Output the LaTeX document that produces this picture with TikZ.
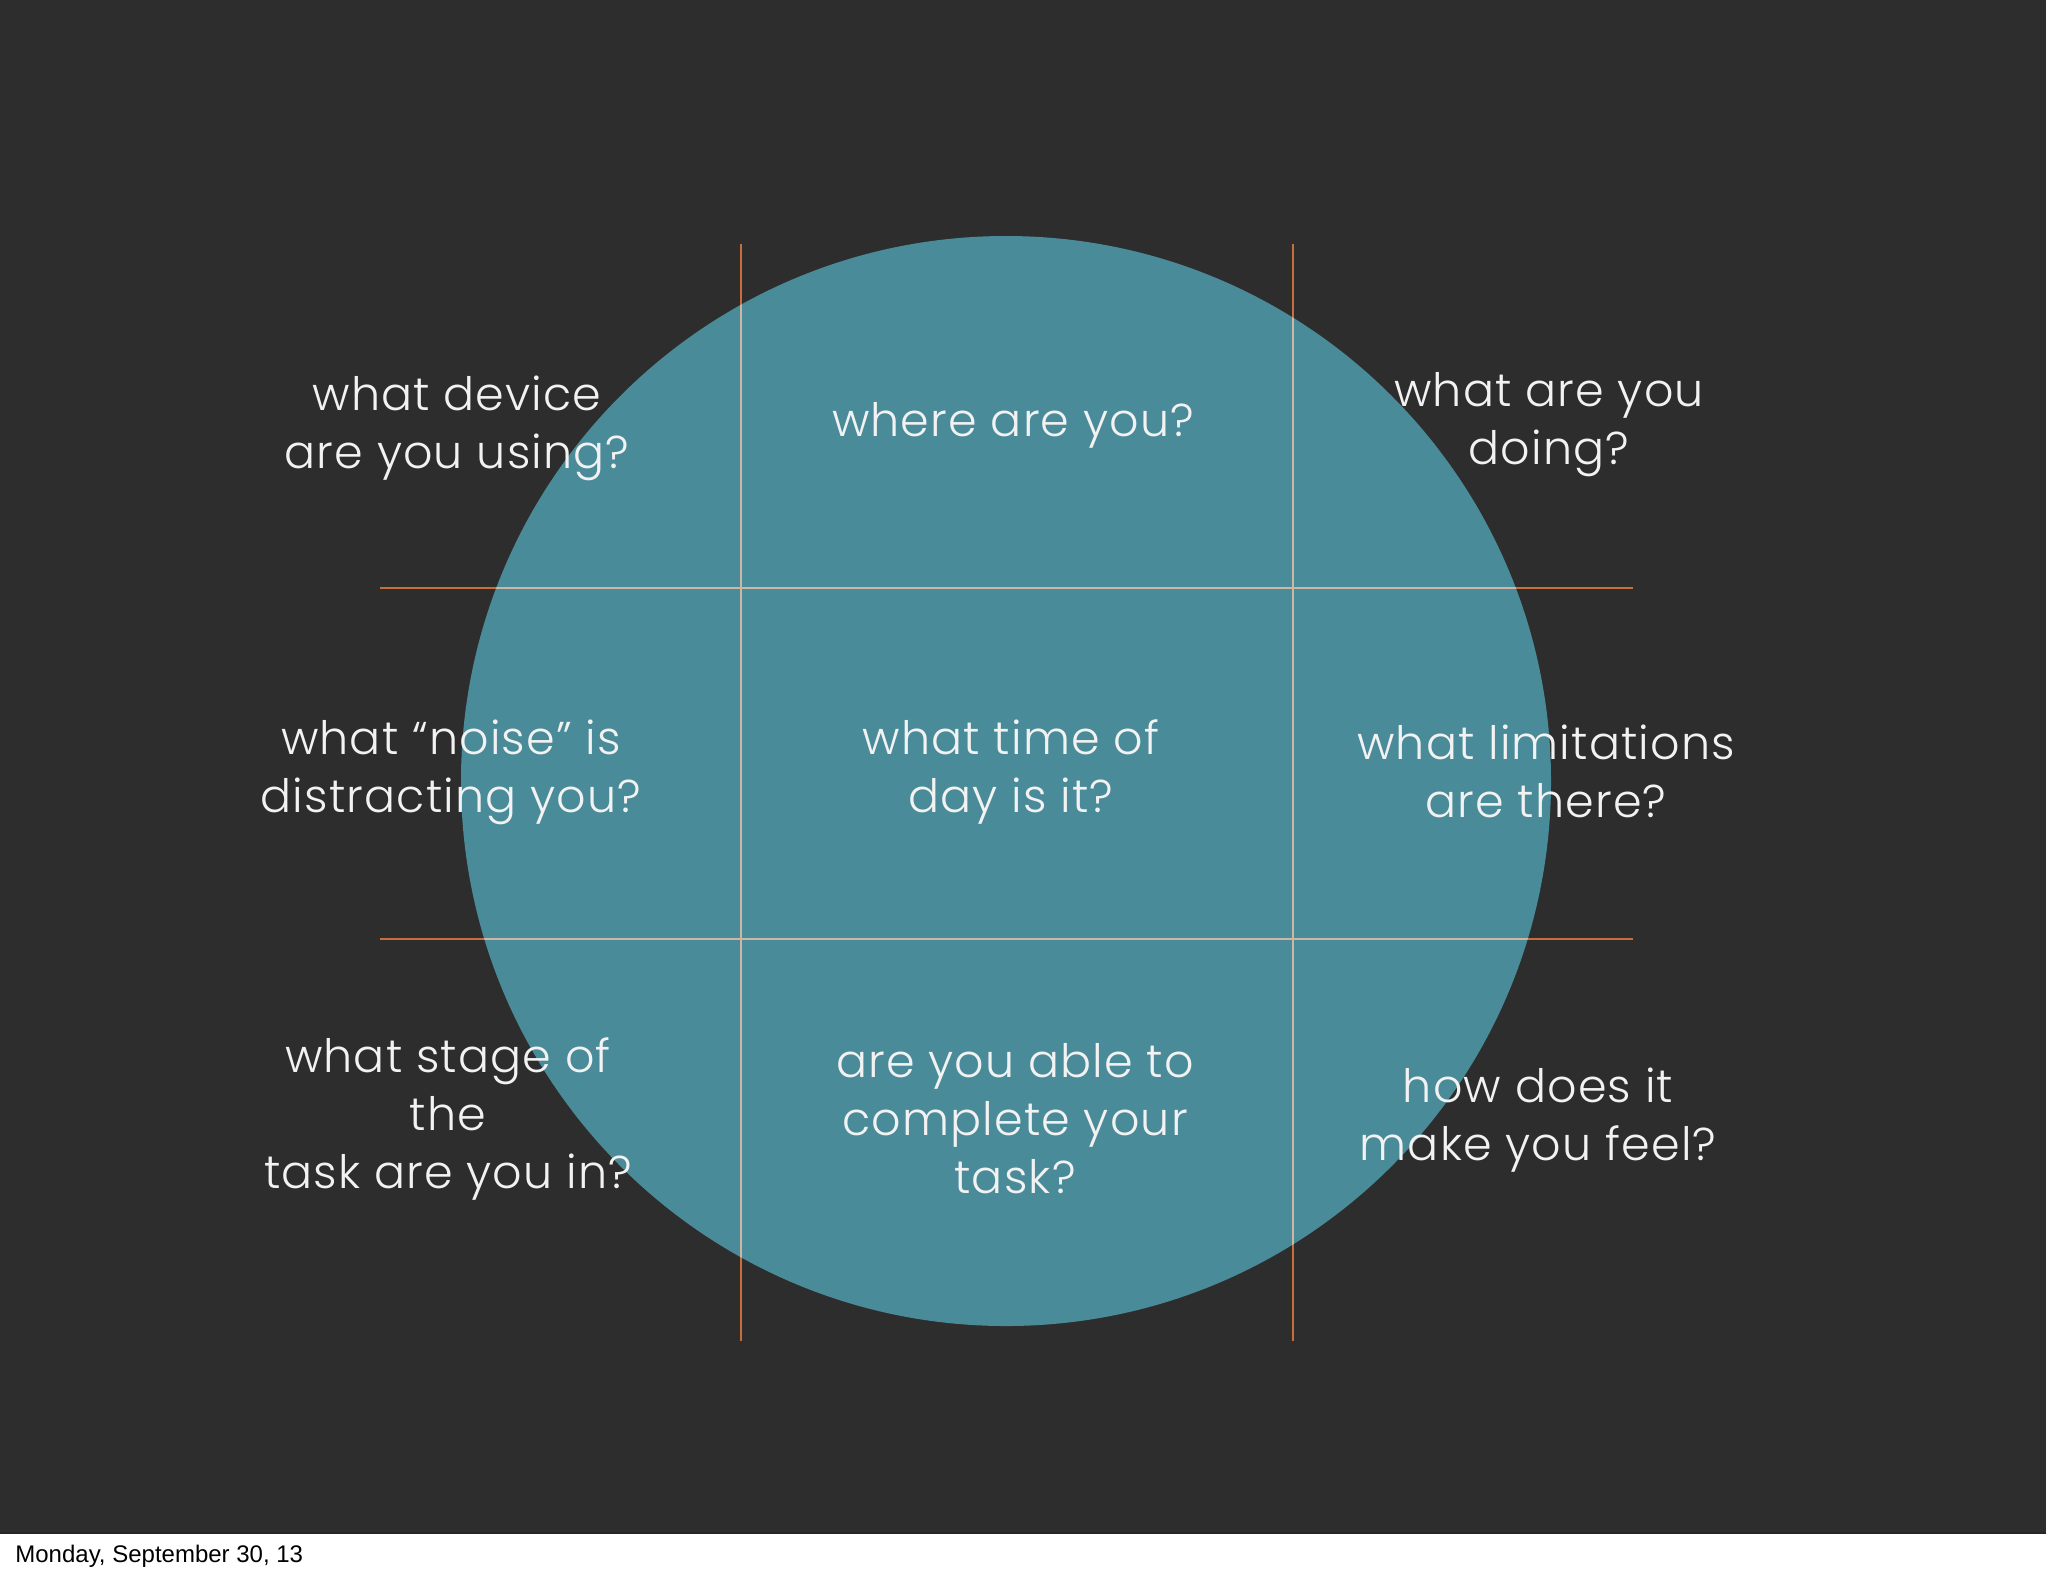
\documentclass[tikz,border=0pt]{standalone}
\usepackage{fontspec}
\setmainfont{Poppins Light}[LetterSpace=2.5]
\newfontfamily\datefont{Liberation Sans}
\definecolor{bg}{HTML}{2E2D2D}
\definecolor{tealc}{HTML}{4A8B99}
\definecolor{lineo}{HTML}{C86E3C}
\definecolor{linel}{HTML}{CDB7A4}
\definecolor{qtext}{HTML}{F2F2F2}
\begin{document}
\begin{tikzpicture}[x=0.5pt,y=-0.5pt,
  q/.style={text=qtext, align=center, inner sep=0pt, font=\fontsize{23}{29}\selectfont},
  gridline/.style={line width=1.4pt, draw=lineo},
  gridlight/.style={line width=1.4pt, draw=linel}]
\useasboundingbox (0,0) rectangle (2048,1576);
\fill[white] (0,0) rectangle (2048,1576);
\fill[bg] (0,0) rectangle (2046,1533);
\draw[black!85, line width=1.2pt] (0,1533) -- (2046,1533);
% circle
\fill[tealc] (1006,781) circle (545);
% grid
\coordinate (v1t) at (741,244); \coordinate (v1b) at (741,1341);
\coordinate (v2t) at (1293,244); \coordinate (v2b) at (1293,1341);
\coordinate (h1l) at (380,588); \coordinate (h1r) at (1633,588);
\coordinate (h2l) at (380,939); \coordinate (h2r) at (1633,939);
\draw[gridline] (v1t) -- (v1b) (v2t) -- (v2b) (h1l) -- (h1r) (h2l) -- (h2r);
\begin{scope}
\clip (1006,781) circle (545);
\draw[gridlight] (v1t) -- (v1b) (v2t) -- (v2b) (h1l) -- (h1r) (h2l) -- (h2r);
\end{scope}
% questions
\node[q] (q11) at (457,428) {what device\\are you using?};
\node[q] (q12) at (1013,425) {where are you?};
\node[q] (q13) at (1549,425) {what are you\\doing?};
\node[q] (q21) at (451,772) {what “noise” is\\distracting you?};
\node[q] (q22) at (1011,772) {what time of\\day is it?};
\node[q] (q23) at (1546,771) {what limitations\\are there?};
\node[q] (q31) at (448,1119) {what stage of\\the\\task are you in?};
\node[q] (q32) at (1015,1119) {are you able to\\complete your\\task?};
\node[q] (q33) at (1538,1120) {how does it\\make you feel?};
% footer
\node[anchor=base west, inner sep=0pt, font=\datefont\fontsize{12}{14}\selectfont, text=black] (date) at (15,1562) {Monday, September 30, 13};
\end{tikzpicture}
\end{document}
